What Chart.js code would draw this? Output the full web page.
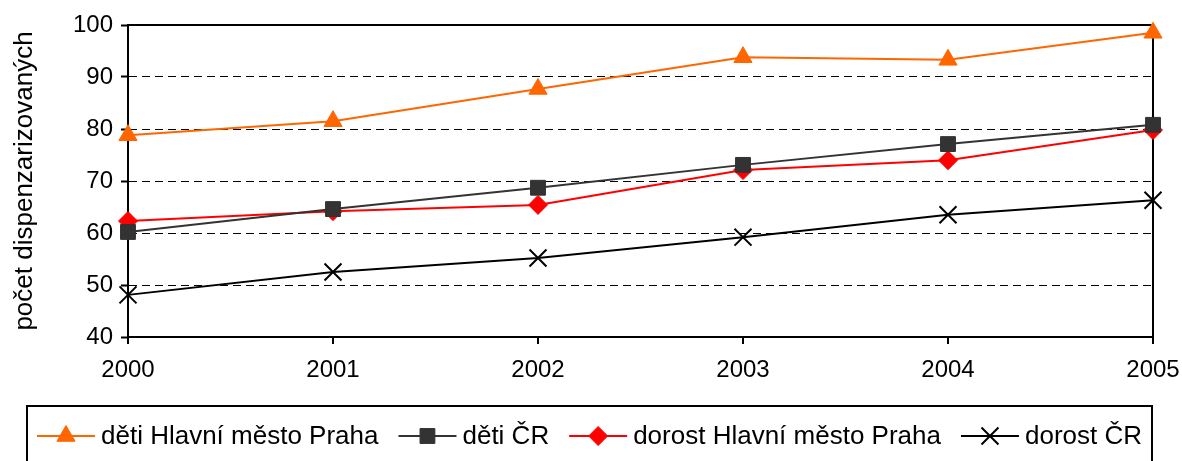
<!DOCTYPE html>
<html>
<head>
<meta charset="utf-8">
<script src="https://cdn.jsdelivr.net/npm/chart.js@4/dist/chart.umd.min.js"></script>
<style>
    html, body { margin: 0; padding: 0; background: #fff; }
    #graf { display: block; }
</style>
</head>
<body>
<canvas id="graf" width="1182" height="461"></canvas>
<script>
var roky = ['2000', '2001', '2002', '2003', '2004', '2005'];
var detiPraha = [78.8, 81.5, 87.7, 93.8, 93.3, 98.5];
var detiCR = [60.2, 64.6, 68.7, 73.1, 77.1, 80.8];
var dorostPraha = [62.3, 64.2, 65.4, 72.1, 74.0, 79.8];
var dorostCR = [48.1, 52.5, 55.2, 59.2, 63.5, 66.3];
var yTicks = [40, 50, 60, 70, 80, 90, 100];
var popisOsyY = 'počet dispenzarizovaných';

var pismo = '"Liberation Sans", Arial, sans-serif';

// ramecek kolem plochy grafu (horni a prava strana, osy kresli scale)
var ramecek = {
    id: 'ramecek',
    beforeDatasetsDraw: function (chart) {
        var a = chart.chartArea;
        var ctx = chart.ctx;
        ctx.save();
        ctx.strokeStyle = '#000';
        ctx.lineWidth = 2;
        ctx.strokeRect(a.left, a.top, a.right - a.left, a.bottom - a.top);
        ctx.restore();
    }
};

// legenda v ramecku pod grafem: cara + znacka + text
var legenda = {
    id: 'legenda',
    afterDraw: function (chart) {
        var ctx = chart.ctx;
        var boxLeft = 27, boxRight = 1152, boxTop = 406, stredY = 436;
        var caraDelka = 58, mezeraText = 6, mezeraPolozka = 20;

        ctx.save();
        ctx.font = '26px ' + pismo;
        ctx.textBaseline = 'middle';

        var sady = chart.data.datasets;
        var sirky = sady.map(function (ds) { return ctx.measureText(ds.label).width; });
        var celkem = 0;
        sirky.forEach(function (w) { celkem += caraDelka + mezeraText + w; });
        celkem += mezeraPolozka * (sady.length - 1);

        ctx.strokeStyle = '#000';
        ctx.lineWidth = 2;
        ctx.strokeRect(boxLeft, boxTop, boxRight - boxLeft, chart.height - boxTop + 10);

        var x = (boxLeft + boxRight) / 2 - celkem / 2;
        sady.forEach(function (ds, i) {
            ctx.strokeStyle = ds.borderColor;
            ctx.lineWidth = ds.borderWidth;
            ctx.beginPath();
            ctx.moveTo(x, stredY);
            ctx.lineTo(x + caraDelka, stredY);
            ctx.stroke();

            ctx.fillStyle = ds.pointBackgroundColor;
            ctx.strokeStyle = ds.pointBorderColor;
            ctx.lineWidth = ds.pointBorderWidth;
            Chart.helpers.drawPoint(ctx, {
                pointStyle: ds.pointStyle,
                radius: ds.pointRadius,
                rotation: ds.pointRotation || 0,
                borderWidth: ds.pointBorderWidth
            }, x + caraDelka / 2, stredY);

            ctx.fillStyle = '#000';
            ctx.textAlign = 'left';
            ctx.fillText(ds.label, x + caraDelka + mezeraText, stredY + 1);
            x += caraDelka + mezeraText + sirky[i] + mezeraPolozka;
        });
        ctx.restore();
    }
};

function rada(label, data, barva, styl, polomer, sirkaZnacky) {
    return {
        label: label,
        data: data,
        borderColor: barva,
        backgroundColor: barva,
        borderWidth: 2,
        pointStyle: styl,
        pointRadius: polomer,
        pointHoverRadius: polomer,
        pointBackgroundColor: barva,
        pointBorderColor: barva,
        pointBorderWidth: sirkaZnacky,
        tension: 0,
        fill: false,
        clip: false
    };
}

new Chart(document.getElementById('graf').getContext('2d'), {
    type: 'line',
    data: {
        labels: roky,
        datasets: [
            rada('děti Hlavní město Praha', detiPraha, '#FF6600', 'triangle', 10.5, 1),
            rada('děti ČR', detiCR, '#333333', 'rect', 10.5, 1),
            rada('dorost Hlavní město Praha', dorostPraha, '#FF0000', 'rectRot', 9.5, 1),
            rada('dorost ČR', dorostCR, '#000000', 'crossRot', 12, 2)
        ]
    },
    options: {
        responsive: false,
        animation: false,
        events: [],
        layout: { padding: { top: 25, right: 29, left: 0, bottom: 0 } },
        plugins: {
            legend: { display: false },
            tooltip: { enabled: false }
        },
        scales: {
            x: {
                type: 'category',
                offset: false,
                afterFit: function (scale) {
                    scale.height = 124;
                    scale.paddingLeft = 0;
                    scale.paddingRight = 0;
                },
                grid: {
                    drawOnChartArea: false,
                    drawTicks: true,
                    tickLength: 7,
                    color: '#000',
                    lineWidth: 2
                },
                border: { color: '#000', width: 2 },
                ticks: {
                    color: '#000',
                    font: { family: pismo, size: 24 },
                    padding: 12,
                    maxRotation: 0,
                    autoSkip: false
                }
            },
            y: {
                min: yTicks[0],
                max: yTicks[yTicks.length - 1],
                afterFit: function (scale) { scale.width = 128; },
                afterBuildTicks: function (scale) {
                    scale.ticks = yTicks.map(function (v) { return { value: v }; });
                },
                grid: {
                    color: function (c) {
                        var v = c.tick ? c.tick.value : null;
                        return (v === yTicks[0] || v === yTicks[yTicks.length - 1]) ? 'rgba(0,0,0,0)' : '#000';
                    },
                    lineWidth: 1,
                    drawTicks: true,
                    tickLength: 7,
                    tickColor: '#000',
                    tickWidth: 2
                },
                border: { color: '#000', width: 2, dash: [8, 5] },
                title: {
                    display: true,
                    text: popisOsyY,
                    color: '#000',
                    font: { family: pismo, size: 26 },
                    padding: { top: 9, bottom: 0 }
                },
                ticks: {
                    color: '#000',
                    font: { family: pismo, size: 24 },
                    padding: 8
                }
            }
        }
    },
    plugins: [ramecek, legenda]
});
</script>
</body>
</html>
